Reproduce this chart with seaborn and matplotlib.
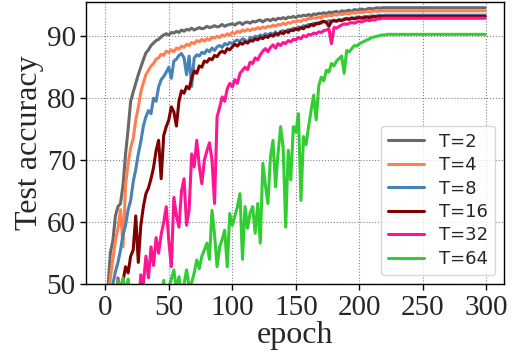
import matplotlib
matplotlib.use("Agg")
import matplotlib.pyplot as plt
import seaborn as sns
import pandas as pd

# Logged epochs (every second epoch during training, then the final epoch)
epochs = list(range(0, 225, 2)) + [299]

acc_t2 = [30, 49, 55, 57, 61, 62.5, 63, 66, 71, 75,
          79.5, 81, 82.4, 83.8, 85, 86.2, 87.3, 87.8, 88.5, 88.9,
          89.3, 89.5, 89.9, 90.2, 90.4, 90.2, 90.6, 90.5, 90.8, 90.6,
          91.0, 90.8, 91.1, 91.0, 91.3, 91.0, 91.2, 91.4, 91.2, 91.3,
          91.6, 91.4, 91.5, 91.7, 91.5, 91.6, 91.9, 91.6, 91.8, 91.9,
          92.0, 91.8, 92.1, 92.2, 91.9, 92.2, 92.3, 92.1, 92.4, 92.3,
          92.5, 92.6, 92.3, 92.6, 92.7, 92.5, 92.8, 92.6, 92.9, 92.8,
          93.0, 92.8, 93.1, 93.0, 93.2, 93.0, 93.3, 93.2, 93.4, 93.3,
          93.5, 93.3, 93.6, 93.5, 93.7, 93.6, 93.8, 93.6, 93.9, 93.8,
          93.9, 94.0, 93.8, 94.1, 94.0, 94.1, 94.2, 94.0, 94.3, 94.2,
          94.3, 94.4, 94.2, 94.4, 94.5, 94.4, 94.5, 94.6, 94.5, 94.6,
          94.6, 94.6, 94.6,
          94.6]

acc_t4 = [25, 44, 51, 54, 57, 59, 62, 56, 66, 69.5,
          72, 73.5, 76.5, 78.5, 81, 82.5, 83.8, 84.5, 85.2, 85.6,
          86.3, 86.5, 87.1, 86.9, 87.6, 87.4, 87.8, 87.5, 88.1, 87.9,
          88.4, 88.2, 88.7, 88.5, 89.0, 88.8, 89.3, 89.1, 89.5, 89.2,
          89.6, 89.4, 89.8, 89.7, 90.0, 89.8, 90.2, 90.0, 90.4, 90.2,
          90.6, 90.4, 90.8, 90.6, 91.0, 90.8, 91.1, 90.9, 91.2, 91.1,
          91.4, 91.2, 91.5, 91.3, 91.6, 91.5, 91.8, 91.6, 91.9, 91.8,
          92.1, 91.9, 92.2, 92.1, 92.4, 92.3, 92.5, 92.4, 92.7, 92.6,
          92.9, 92.8, 93.0, 92.9, 93.1, 93.0, 93.3, 93.2, 93.4, 93.3,
          93.5, 93.4, 93.6, 93.5, 93.6, 93.7, 93.6, 93.8, 93.7, 93.8,
          93.9, 93.8, 93.9, 94.0, 93.9, 94.0, 94.1, 94.0, 94.1, 94.1,
          94.1, 94.1, 94.1,
          94.1]

acc_t8 = [20, 38, 45, 50, 52, 53.5, 55.5, 58, 59.5, 62,
          63.5, 66.5, 68.5, 71, 73, 75.5, 77, 78, 77.5, 80,
          79.5, 81.8, 83, 83.5, 84.2, 85, 83.2, 86, 86.3, 86.9,
          87.2, 86.5, 83.8, 86.8, 81.9, 86.5, 87.0, 86.8, 87.4, 87.2,
          87.8, 87.5, 88.1, 87.7, 88.3, 88.5, 88.2, 88.8, 88.6, 89.0,
          88.8, 89.2, 89.4, 89.1, 89.6, 89.4, 88.9, 89.8, 89.6, 90.0,
          89.9, 90.2, 90.0, 90.4, 90.2, 90.5, 90.3, 90.7, 90.1, 90.8,
          90.9, 90.7, 91.1, 90.9, 91.3, 91.2, 91.5, 91.3, 91.7, 91.6,
          91.9, 91.8, 92.1, 91.9, 92.2, 92.1, 92.4, 92.3, 92.5, 92.4,
          92.6, 92.5, 92.7, 92.6, 92.8, 92.9, 92.8, 93.0, 92.9, 93.1,
          93.1, 93.0, 93.2, 93.1, 93.2, 93.3, 93.2, 93.3, 93.4, 93.3,
          93.4, 93.4, 93.4,
          93.4]

acc_t16 = [15, 25, 32, 38, 42, 45, 48, 50.5, 52.8, 51.8,
           54.5, 55.5, 61, 53.5, 59.5, 62.5, 64.6, 65.5, 67, 68.8,
           71.5, 73.2, 67, 74, 75.4, 76.5, 78.6, 77.8, 75.5, 79.5,
           81.2, 80.8, 81.9, 81.5, 83.2, 84.4, 84.0, 85.2, 85.0, 86.0,
           85.8, 86.4, 86.2, 86.9, 86.7, 87.3, 87.6, 87.3, 88.0, 87.8,
           88.3, 88.7, 88.4, 88.9, 88.7, 89.1, 88.9, 89.3, 89.2, 89.6,
           89.4, 89.8, 89.6, 90.0, 89.8, 90.2, 90.0, 90.4, 90.3, 90.6,
           90.4, 90.8, 90.6, 91.0, 90.9, 91.2, 91.0, 91.4, 91.2, 91.6,
           91.5, 91.9, 91.7, 92.1, 92.0, 92.3, 92.4, 92.2, 91.6, 92.4,
           92.5, 92.4, 92.6, 92.5, 92.7, 92.8, 92.7, 92.9, 92.8, 92.9,
           93.0, 92.9, 93.0, 93.1, 93.0, 93.1, 93.2, 93.1, 93.2, 93.2,
           93.2, 93.2, 93.2,
           93.2]

acc_t32 = [10, 15, 25, 35, 45, 51, 49, 46, 48, 45,
           47, 44, 48, 46, 51.5, 50, 54.5, 51, 56, 53,
           57.5, 55, 58, 60, 62.5, 57, 52.8, 64, 61, 59.2,
           65, 67, 59.5, 62, 71, 68.9, 73.2, 69, 66.2, 70,
           71.5, 72.8, 70, 63, 77, 78.5, 80.2, 79.5, 81.5, 82.4,
           81.8, 83, 82.4, 84, 84.5, 85, 84.6, 85.8, 85.6, 86.5,
           86.2, 87, 87.6, 88, 87.5, 88.2, 88.6, 88.1, 88.8, 88.5,
           89.0, 88.8, 89.3, 89.1, 89.5, 89.4, 89.8, 89.6, 90.1, 89.9,
           90.3, 90.2, 90.5, 90.4, 90.7, 90.6, 90.9, 91.0, 91.2, 88.8,
           91.4, 91.3, 91.6, 91.8, 92.0, 91.9, 92.1, 92.2, 92.1, 92.3,
           92.4, 92.3, 92.5, 92.6, 92.5, 92.7, 92.6, 92.8, 92.8, 92.9,
           92.9, 92.9, 92.9,
           92.9]

acc_t64 = [10, 20, 30, 38, 45, 50.6, 49, 51, 48.5, 50.8,
           47, 45, 47.5, 44, 46, 43, 47, 45, 48, 46,
           47.5, 45, 48, 50.6, 47, 49.5, 50.8, 52.3, 49, 51.2,
           48.5, 50, 52.3, 49.5, 50.2, 51.8, 53.9, 52.5, 54.5, 55.5,
           56.6, 54, 61.9, 58, 52.8, 56, 57.2, 58.7, 52.8, 61.4,
           59.5, 61, 62.5, 64.6, 54, 62.5, 59, 61.5, 62.5, 58.2,
           63, 56.6, 69.5, 66, 63, 70.5, 73.2, 65.7, 71.1, 75.4,
           72, 59.2, 71.6, 66.8, 75.4, 74.5, 77.5, 63.5, 73.8, 72.5,
           75.4, 78, 80.5, 76.5, 82, 83.4, 82.8, 84.5, 84.2, 85.6,
           85.2, 86, 86.4, 86.8, 84, 87.7, 87.5, 88, 88.5, 88.4,
           88.8, 89.0, 89.2, 89.4, 89.6, 89.8, 89.9, 90.0, 90.1, 90.2,
           90.2, 90.3, 90.3,
           90.3]

series_names = ["T=2", "T=4", "T=8", "T=16", "T=32", "T=64"]
series_values = [acc_t2, acc_t4, acc_t8, acc_t16, acc_t32, acc_t64]
colors = ["dimgray", "coral", "steelblue", "maroon", "deeppink", "limegreen"]

frames = []
for name, vals in zip(series_names, series_values):
    frames.append(pd.DataFrame({"epoch": epochs, "acc": vals, "T": name}))
df = pd.concat(frames, ignore_index=True)

sns.set_style("ticks")
plt.rcParams["font.family"] = ["Liberation Serif", "DejaVu Serif"]

fig = plt.figure(figsize=(5.13, 3.56), dpi=100)
ax = fig.add_axes([0.168, 0.202, 0.815, 0.792])

sns.lineplot(data=df, x="epoch", y="acc", hue="T", hue_order=series_names,
             palette=dict(zip(series_names, colors)), linewidth=2.2, ax=ax)

ax.set_ylim(50, 95.5)
ax.set_xlim(-15, 314)
ax.set_xticks([0, 50, 100, 150, 200, 250, 300])
ax.set_yticks([50, 60, 70, 80, 90])
ax.tick_params(axis="both", labelsize=21, length=4, width=1, color="black")
ax.set_xlabel("epoch", fontsize=23, labelpad=0)
ax.set_ylabel("Test accuracy", fontsize=23, labelpad=2)
ax.grid(True, linestyle=":", color="gray", linewidth=0.8)
for s in ax.spines.values():
    s.set_color("black")
    s.set_linewidth(1.0)

leg = ax.legend(loc="lower right", prop={"family": "DejaVu Sans", "size": 13},
                labelspacing=0.3, handlelength=2.0, framealpha=0.8)
for line in leg.get_lines():
    line.set_linewidth(2.2)

fig.savefig("out.png", dpi=100)
